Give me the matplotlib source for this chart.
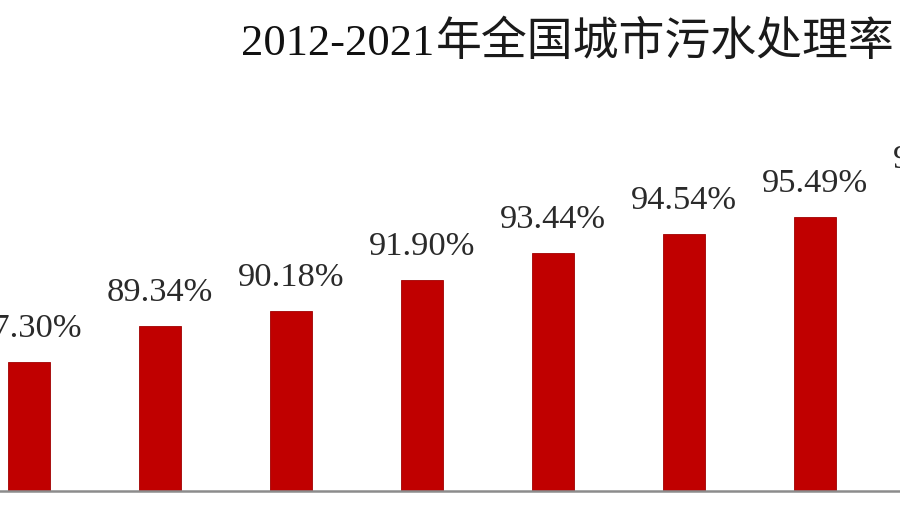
import matplotlib
matplotlib.use("Agg")
import matplotlib.pyplot as plt

years = ["2012", "2013", "2014", "2015", "2016", "2017", "2018", "2019", "2020", "2021"]
rates = [87.30, 89.34, 90.18, 91.90, 93.44, 94.54, 95.49, 96.81, 97.53, 97.89]
title_num = "2012-2021"
title_cjk = "年全国城市污水处理率"

W, H = 900, 512
fig = plt.figure(figsize=(W / 100, H / 100), dpi=100)
fig.patch.set_facecolor("white")

base_px = 491          # baseline from top
px_per_pct = 17.7
spacing = 131.0
first_center = 29.0

ax = fig.add_axes([0, (H - base_px) / H, 1, base_px / H])
ax.set_facecolor("white")
x = list(range(len(years)))
ax.bar(x, rates, width=42 / spacing, color="#C00000", edgecolor="#A00000",
       linewidth=0.6, bottom=0, zorder=2)
ax.set_xlim(-first_center / spacing, (W - first_center) / spacing)
ax.set_ylim(80, 80 + base_px / px_per_pct)

for xi, v in zip(x, rates):
    ax.annotate(f"{v:.2f}%", xy=(xi, v), xytext=(0, 18), textcoords="offset points",
                ha="center", va="baseline", fontsize=24.8,
                family=["Liberation Serif", "DejaVu Serif"], color="#2a2a2a",
                annotation_clip=False, clip_on=False)

for s in ["top", "right", "left"]:
    ax.spines[s].set_visible(False)
ax.spines["bottom"].set_color("#8c8c8c")
ax.spines["bottom"].set_linewidth(1.8)
ax.set_xticks([])
ax.set_yticks([])

t1 = fig.text(241 / W, 1 - 55 / H, title_num, ha="left", va="baseline",
              fontsize=32, family=["Liberation Serif"], color="#111111")
fig.canvas.draw()
bb = t1.get_window_extent()
fig.text((bb.x1 + 2) / W, 1 - 55 / H, title_cjk, ha="left", va="baseline",
         fontsize=33, family=["Noto Sans CJK SC", "DejaVu Sans"], color="#1a1a1a",
         fontweight="light")

fig.savefig("out.png", dpi=100, facecolor="white")
